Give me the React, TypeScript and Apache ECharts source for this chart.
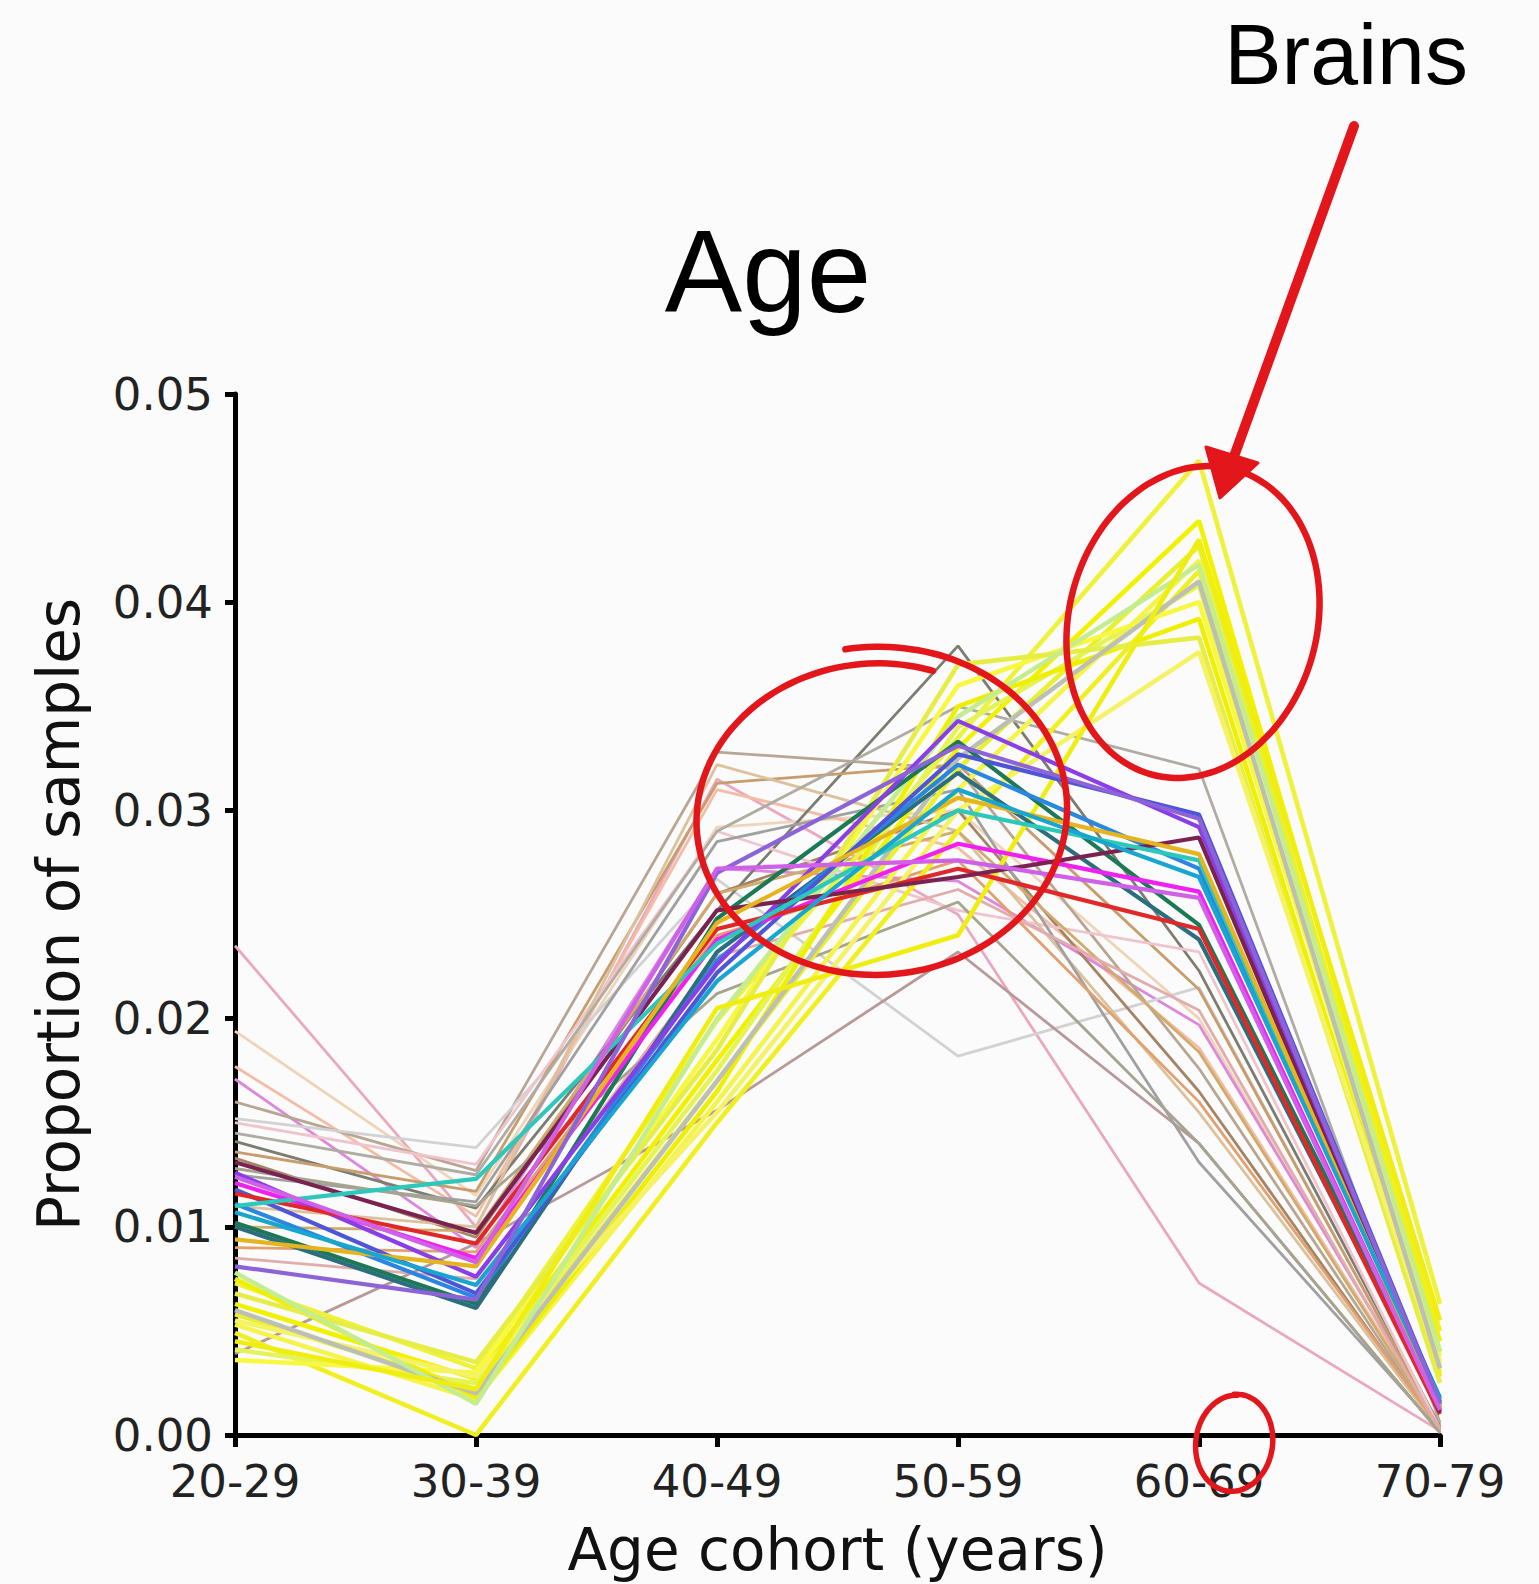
import React, { useEffect, useRef } from "react";
import * as echarts from "echarts";

// ---------- data ----------
const categories = ["20-29", "30-39", "40-49", "50-59", "60-69", "70-79"];
const yMin = 0;
const yMax = 0.05;
const yStep = 0.01;

// pastel / muted tissues (thin lines)
const pastelColors = [
  "#eaa8c0", "#f0d4b8", "#f4bca4", "#dc88dc", "#b8a694", "#d2d2d2",
  "#7c7c70", "#c89c6c", "#a48464", "#b89898", "#f0c4cc", "#dcc29c",
  "#a0a0a0", "#d0ac6c", "#e2a070", "#e2acac", "#a6a48e", "#b0aca4",
];
const pastelValues = [
  [0.0235, 0.0100, 0.0315, 0.0250, 0.0073, 0.0002],
  [0.0194, 0.0115, 0.0292, 0.0300, 0.0200, 0.0003],
  [0.0177, 0.0105, 0.0310, 0.0282, 0.0186, 0.0004],
  [0.0171, 0.0090, 0.0272, 0.0266, 0.0197, 0.0005],
  [0.0160, 0.0127, 0.0328, 0.0320, 0.0176, 0.0002],
  [0.0152, 0.0138, 0.0267, 0.0182, 0.0215, 0.0003],
  [0.0141, 0.0109, 0.0252, 0.0379, 0.0223, 0.0004],
  [0.0136, 0.0117, 0.0313, 0.0322, 0.0214, 0.0003],
  [0.0133, 0.0095, 0.0260, 0.0300, 0.0165, 0.0002],
  [0.0039, 0.0092, 0.0156, 0.0232, 0.0140, 0.0001],
  [0.0150, 0.0130, 0.0290, 0.0252, 0.0232, 0.0003],
  [0.0110, 0.0100, 0.0322, 0.0290, 0.0155, 0.0002],
  [0.0125, 0.0112, 0.0285, 0.0310, 0.0131, 0.0002],
  [0.0100, 0.0098, 0.0260, 0.0290, 0.0184, 0.0003],
  [0.0090, 0.0088, 0.0240, 0.0276, 0.0160, 0.0003],
  [0.0085, 0.0075, 0.0230, 0.0262, 0.0204, 0.0002],
  [0.0128, 0.0110, 0.0212, 0.0256, 0.0140, 0.0001],
  [0.0145, 0.0125, 0.0290, 0.0350, 0.0320, 0.0006],
];

// brain tissues (yellow)
const brainColors = [
  "#eef23a", "#f2f200", "#e8f030", "#f4f44a", "#f0f020", "#e4f458",
  "#f8f840", "#eef000", "#e6ee46", "#f6f266", "#bcc0b4", "#c4ec90",
  "#f0ee10",
];
const brainValues = [
  [0.0073, 0.0032, 0.0199, 0.0335, 0.0468, 0.0063],
  [0.0063, 0.0027, 0.0180, 0.0330, 0.0439, 0.0045],
  [0.0058, 0.0022, 0.0170, 0.0320, 0.0427, 0.0040],
  [0.0053, 0.0017, 0.0160, 0.0310, 0.0420, 0.0035],
  [0.0049, 0.0000, 0.0150, 0.0290, 0.0415, 0.0050],
  [0.0041, 0.0025, 0.0175, 0.0340, 0.0408, 0.0030],
  [0.0036, 0.0030, 0.0190, 0.0360, 0.0400, 0.0038],
  [0.0075, 0.0018, 0.0165, 0.0350, 0.0392, 0.0028],
  [0.0068, 0.0035, 0.0185, 0.0370, 0.0383, 0.0025],
  [0.0055, 0.0028, 0.0155, 0.0300, 0.0376, 0.0033],
  [0.0060, 0.0020, 0.0170, 0.0325, 0.0410, 0.0032],
  [0.0078, 0.0015, 0.0200, 0.0345, 0.0418, 0.0040],
  [0.0045, 0.0022, 0.0205, 0.0240, 0.0430, 0.0055],
];

// strongly coloured tissues (thick lines)
const strongColors = [
  "#1b7a55", "#2b6f7f", "#2a86e0", "#4f55d8", "#f020f0", "#8a3ee8",
  "#e02828", "#7a2350", "#2cc8bc", "#e5b41e", "#18a6d0", "#8c64d8",
  "#d060e8",
];
const strongValues = [
  [0.0102, 0.0063, 0.0248, 0.0333, 0.0245, 0.0015],
  [0.0100, 0.0061, 0.0232, 0.0318, 0.0238, 0.0013],
  [0.0111, 0.0066, 0.0228, 0.0322, 0.0272, 0.0018],
  [0.0118, 0.0068, 0.0222, 0.0327, 0.0298, 0.0016],
  [0.0121, 0.0085, 0.0238, 0.0284, 0.0261, 0.0012],
  [0.0126, 0.0076, 0.0226, 0.0343, 0.0292, 0.0014],
  [0.0116, 0.0092, 0.0243, 0.0272, 0.0243, 0.0010],
  [0.0131, 0.0097, 0.0252, 0.0268, 0.0287, 0.0011],
  [0.0110, 0.0123, 0.0236, 0.0300, 0.0276, 0.0014],
  [0.0094, 0.0081, 0.0246, 0.0306, 0.0279, 0.0013],
  [0.0107, 0.0072, 0.0218, 0.0310, 0.0268, 0.0017],
  [0.0081, 0.0065, 0.0270, 0.0331, 0.0296, 0.0015],
  [0.0124, 0.0083, 0.0272, 0.0276, 0.0258, 0.0012],
];

// ---------- annotation helpers ----------
const RED = "#e3161b";

function loopPoints(
  cx: number, cy: number, rx: number, ry: number, rotDeg: number,
  startDeg: number, endDeg: number, s0: number, s1: number, n = 90
) {
  const pts: number[][] = [];
  const th = (rotDeg * Math.PI) / 180;
  for (let i = 0; i <= n; i++) {
    const f = i / n;
    const t = ((startDeg + (endDeg - startDeg) * f) * Math.PI) / 180;
    const s = s0 + (s1 - s0) * f;
    const x = rx * s * Math.cos(t);
    const y = ry * s * Math.sin(t);
    pts.push([cx + x * Math.cos(th) - y * Math.sin(th), cy + x * Math.sin(th) + y * Math.cos(th)]);
  }
  return pts;
}

function makeSeries(values: number[][], colors: string[], width: number, z: number, prefix: string) {
  return values.map((v, i) => ({
    name: prefix + (i + 1),
    type: "line",
    data: v,
    symbol: "none",
    silent: true,
    z,
    lineStyle: { color: colors[i % colors.length], width },
    itemStyle: { color: colors[i % colors.length] },
  }));
}

export default function App() {
  const ref = useRef<HTMLDivElement>(null);
  useEffect(() => {
    if (!ref.current) return;
    const chart = echarts.init(ref.current, null, { renderer: "svg" });
    const tickFont = { fontFamily: "DejaVu Sans", fontSize: 45, color: "#222" };
    const option: any = {
      animation: false,
      backgroundColor: "#fbfbfb",
      grid: { left: 235, right: 99, top: 394, bottom: 149, containLabel: false, outerBoundsMode: "none" },
      xAxis: {
        type: "category",
        data: categories,
        boundaryGap: false,
        name: "Age cohort (years)",
        nameLocation: "middle",
        nameGap: 86,
        nameTextStyle: { fontFamily: "DejaVu Sans", fontSize: 58, color: "#111" },
        axisLine: { show: true, lineStyle: { color: "#000", width: 5 } },
        axisTick: { show: true, length: 12, alignWithLabel: true, lineStyle: { color: "#000", width: 5 } },
        axisLabel: { ...tickFont, margin: 24 },
        splitLine: { show: false },
      },
      yAxis: {
        type: "value",
        min: yMin,
        max: yMax,
        interval: yStep,
        name: "Proportion of samples",
        nameLocation: "middle",
        nameGap: 147,
        nameTextStyle: { fontFamily: "DejaVu Sans", fontSize: 58, color: "#111" },
        axisLine: { show: true, lineStyle: { color: "#000", width: 5 } },
        axisTick: { show: true, length: 10, lineStyle: { color: "#000", width: 5 } },
        axisLabel: { ...tickFont, margin: 22, formatter: (v: number) => v.toFixed(2) },
        splitLine: { show: false },
      },
      series: [
        ...makeSeries(pastelValues, pastelColors, 2.8, 1, "tissue-a-"),
        ...makeSeries(brainValues, brainColors, 4.6, 2, "brain-"),
        ...makeSeries(strongValues, strongColors, 4.2, 3, "tissue-b-"),
      ],
      graphic: [
        {
          type: "text",
          x: 768,
          y: 272,
          style: { text: "Age", font: '116px "Liberation Sans"', fill: "#000", textAlign: "center", textVerticalAlign: "middle" },
          z: 10,
        },
        {
          type: "text",
          x: 1346,
          y: 54,
          style: { text: "Brains", font: '86px "Liberation Sans"', fill: "#000", textAlign: "center", textVerticalAlign: "middle" },
          z: 10,
        },
        {
          type: "polyline",
          shape: { points: loopPoints(877, 815, 188, 162, -5, -95, 293, 1.04, 0.93), smooth: 0.3 },
          style: { stroke: RED, lineWidth: 6.5, fill: null, lineCap: "round", lineJoin: "round" },
          z: 20,
        },
        {
          type: "polyline",
          shape: { points: loopPoints(1193, 622, 124, 158, 15, -150, 212, 1.0, 1.0), smooth: 0.3 },
          style: { stroke: RED, lineWidth: 6.5, fill: null, lineCap: "round", lineJoin: "round" },
          z: 20,
        },
        {
          type: "polyline",
          shape: { points: loopPoints(1234, 1443, 38, 48, 8, -100, 265, 1.02, 1.0), smooth: 0.3 },
          style: { stroke: RED, lineWidth: 5.5, fill: null, lineCap: "round", lineJoin: "round" },
          z: 20,
        },
        {
          type: "line",
          shape: { x1: 1354, y1: 126, x2: 1232, y2: 462 },
          style: { stroke: RED, lineWidth: 10, lineCap: "round" },
          z: 20,
        },
        {
          type: "polygon",
          shape: { points: [[1206, 447], [1258, 463], [1220, 498]] },
          style: { fill: RED, stroke: RED, lineWidth: 3, lineJoin: "round" },
          z: 20,
        },
      ],
    };
    chart.setOption(option);
    return () => chart.dispose();
  }, []);
  return (
    <div
      ref={ref}
      style={{ position: "fixed", left: 0, top: 0, width: 1539, height: 1584 }}
    />
  );
}
